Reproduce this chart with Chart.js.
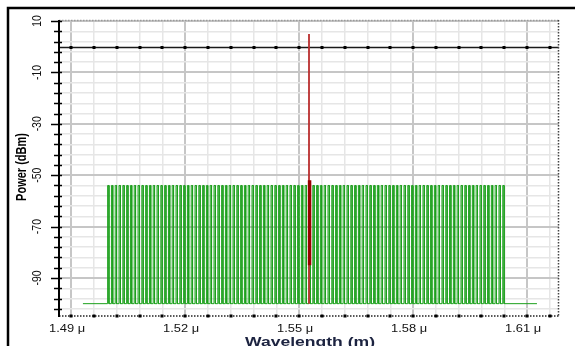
<!DOCTYPE html>
<html>
<head>
<meta charset="UTF-8">
<title>Power vs Wavelength</title>
<script src="https://cdn.jsdelivr.net/npm/chart.js@4.4.0/dist/chart.umd.min.js"></script>
<style>
  html, body { margin: 0; padding: 0; background: #fff; }
  canvas { display: block; }
</style>
</head>
<body>
<canvas id="spectrum" width="575" height="346"></canvas>
<script>
// --- data (wavelengths in nm, power in dBm) ---
const combNm = [
  1499.6, 1500.6, 1501.6, 1502.6, 1503.6, 1504.6, 1505.6, 1506.6, 1507.6, 1508.6,
  1509.6, 1510.6, 1511.6, 1512.6, 1513.6, 1514.6, 1515.6, 1516.6, 1517.6, 1518.6,
  1519.6, 1520.6, 1521.6, 1522.6, 1523.6, 1524.6, 1525.6, 1526.6, 1527.6, 1528.6,
  1529.6, 1530.6, 1531.6, 1532.6, 1533.6, 1534.6, 1535.6, 1536.6, 1537.6, 1538.6,
  1539.6, 1540.6, 1541.6, 1542.6, 1543.6, 1544.6, 1545.6, 1546.6, 1547.6, 1548.6,
  1549.6, 1550.6, 1551.6, 1552.6, 1553.6, 1554.6, 1555.6, 1556.6, 1557.6, 1558.6,
  1559.6, 1560.6, 1561.6, 1562.6, 1563.6, 1564.6, 1565.6, 1566.6, 1567.6, 1568.6,
  1569.6, 1570.6, 1571.6, 1572.6, 1573.6, 1574.6, 1575.6, 1576.6, 1577.6, 1578.6,
  1579.6, 1580.6, 1581.6, 1582.6, 1583.6, 1584.6, 1585.6, 1586.6, 1587.6, 1588.6,
  1589.6, 1590.6, 1591.6, 1592.6, 1593.6, 1594.6, 1595.6, 1596.6, 1597.6, 1598.6,
  1599.6, 1600.6, 1601.6, 1602.6, 1603.6
];
const combTopDbm = -54;
const floorDbm = -100;
const baseStartNm = 1493.1;
const baseEndNm = 1612.6;

// single strong channel
const spikeNm = [1552.6, 1552.6];
const spikeDbm = [-100, 5];
const spikeCoreNm = [1552.75, 1552.75];
const spikeCoreDbm = [-52, -85];

const refLevel = 0; // black reference trace at 0 dBm

// axes
const xMin = 1486.8, xMax = 1618.4;
const yMin = -104.8, yMax = 10.4;
const xMajorTicks = [1490, 1520, 1550, 1580, 1610];
const xTickLabels = ['1.49 μ', '1.52 μ', '1.55 μ', '1.58 μ', '1.61 μ'];
const yMajorTicks = [10, -10, -30, -50, -70, -90];
const yTickLabels = ['10', '-10', '-30', '-50', '-70', '-90'];
const xMinorStep = 6, yMinorStep = 4;

// build green trace (each channel drawn as a narrow rectangle)
const combWidth = 0.35;
const greenPts = [{ x: baseStartNm, y: floorDbm }];
combNm.forEach(w => {
  greenPts.push({ x: w, y: floorDbm }, { x: w, y: combTopDbm },
                { x: w + combWidth, y: combTopDbm }, { x: w + combWidth, y: floorDbm });
});
greenPts.push({ x: baseEndNm, y: floorDbm });

const toPts = (xs, ys) => xs.map((v, i) => ({ x: v, y: ys[i] }));

// minor grid positions derived from the major ticks
function minorTicks(first, step, lo, hi) {
  const out = [];
  let v = first;
  while (v - step >= lo) v -= step;
  for (; v <= hi; v += step) out.push({ value: Math.round(v * 100) / 100 });
  return out;
}

const decor = {
  id: 'decor',
  beforeDatasetsDraw(chart) {
    const { ctx, chartArea: a, scales: { x, y } } = chart;
    const yr = Math.round(y.getPixelForValue(refLevel)) + 0.5;
    ctx.save();
    ctx.strokeStyle = '#1a1a1a';
    ctx.lineWidth = 1.3;
    ctx.beginPath(); ctx.moveTo(a.left, yr); ctx.lineTo(a.right, yr); ctx.stroke();
    ctx.fillStyle = '#000';
    x.ticks.forEach(t => {
      const px = Math.round(x.getPixelForValue(t.value));
      ctx.fillRect(px - 1.5, yr - 1.5, 3, 3);
    });
    ctx.restore();
  },
  afterDraw(chart) {
    const { ctx, chartArea: a, scales: { x, y } } = chart;
    ctx.save();

    // outer frame
    ctx.strokeStyle = '#000';
    ctx.lineWidth = 2.5;
    ctx.strokeRect(8, 8, 620, 400);

    // top border (dotted grey) and right border (dotted dark)
    ctx.setLineDash([1.5, 1.5]);
    ctx.lineWidth = 1.5;
    ctx.strokeStyle = '#9a9a9a';
    ctx.beginPath(); ctx.moveTo(a.left, a.top + 0.5); ctx.lineTo(a.right, a.top + 0.5); ctx.stroke();
    ctx.strokeStyle = '#444';
    ctx.beginPath(); ctx.moveTo(a.right - 0.5, a.top); ctx.lineTo(a.right - 0.5, a.bottom); ctx.stroke();

    // bottom axis: dotted black with square markers
    ctx.strokeStyle = '#222';
    ctx.beginPath(); ctx.moveTo(a.left, a.bottom); ctx.lineTo(a.right, a.bottom); ctx.stroke();
    ctx.setLineDash([]);
    ctx.fillStyle = '#000';
    x.ticks.forEach(t => {
      const px = Math.round(x.getPixelForValue(t.value));
      ctx.fillRect(px - 1.5, a.bottom - 1.5, 3, 3);
    });

    // left axis: solid black with ticks
    ctx.strokeStyle = '#000';
    ctx.lineWidth = 2;
    ctx.beginPath(); ctx.moveTo(a.left, a.top); ctx.lineTo(a.left, a.bottom + 1); ctx.stroke();
    ctx.lineWidth = 1.5;
    y.ticks.forEach(t => {
      const py = Math.round(y.getPixelForValue(t.value)) + 0.5;
      const major = yMajorTicks.includes(t.value);
      ctx.beginPath();
      ctx.moveTo(a.left - (major ? 8 : 5), py);
      ctx.lineTo(a.left + 3, py);
      ctx.stroke();
    });

    // y tick labels (rotated)
    ctx.fillStyle = '#111';
    ctx.font = '11px "Liberation Sans", Arial, sans-serif';
    ctx.textAlign = 'center';
    ctx.textBaseline = 'middle';
    yMajorTicks.forEach((v, i) => {
      ctx.save();
      ctx.translate(38, y.getPixelForValue(v));
      ctx.rotate(-Math.PI / 2);
      ctx.scale(0.95, 1.15);
      ctx.fillText(yTickLabels[i], 0, 0);
      ctx.restore();
    });

    // x tick labels
    ctx.font = '11.5px "Liberation Sans", Arial, sans-serif';
    xMajorTicks.forEach((v, i) => {
      ctx.save();
      ctx.translate(x.getPixelForValue(v) - 4, 329);
      ctx.scale(1.12, 1);
      ctx.fillText(xTickLabels[i], 0, 0);
      ctx.restore();
    });

    // axis titles
    ctx.save();
    ctx.translate(22, 167);
    ctx.rotate(-Math.PI / 2);
    ctx.scale(1, 1.25);
    ctx.font = 'bold 11px "Liberation Sans", Arial, sans-serif';
    ctx.fillStyle = '#000';
    ctx.fillText('Power (dBm)', 0, 0);
    ctx.restore();

    ctx.save();
    ctx.translate(310, 346);
    ctx.scale(1.35, 1);
    ctx.font = 'bold 13px "Liberation Sans", Arial, sans-serif';
    ctx.fillStyle = '#1c2340';
    ctx.textBaseline = 'alphabetic';
    ctx.fillText('Wavelength (m)', 0, 0);
    ctx.restore();

    ctx.restore();
  }
};

const gridColor = majors => c => majors.includes(c.tick.value) ? '#c6c6c6' : '#e6e6e6';
const gridWidth = majors => c => majors.includes(c.tick.value) ? 2 : 1.5;

new Chart(document.getElementById('spectrum').getContext('2d'), {
  type: 'line',
  data: {
    datasets: [
      { data: toPts(spikeCoreNm, spikeCoreDbm), borderColor: '#980000', borderWidth: 3.5, order: 0 },
      { data: toPts(spikeNm, spikeDbm), borderColor: 'rgba(185,45,45,0.9)', borderWidth: 2, order: 1 },
      { data: greenPts, borderColor: 'rgb(28,160,28)', borderWidth: 1, order: 2 }
    ]
  },
  options: {
    responsive: false,
    devicePixelRatio: 1,
    animation: false,
    parsing: false,
    layout: { padding: { left: 59, right: 16, top: 20, bottom: 30 } },
    elements: { point: { radius: 0 }, line: { tension: 0, fill: false } },
    plugins: { legend: { display: false }, tooltip: { enabled: false } },
    scales: {
      x: {
        type: 'linear', min: xMin, max: xMax,
        afterBuildTicks: s => { s.ticks = minorTicks(xMajorTicks[0], xMinorStep, xMin, xMax); },
        afterFit: s => { s.height = 0; },
        ticks: { display: false },
        border: { display: false },
        grid: { drawTicks: false, color: gridColor(xMajorTicks), lineWidth: gridWidth(xMajorTicks) }
      },
      y: {
        type: 'linear', min: yMin, max: yMax,
        afterBuildTicks: s => { s.ticks = minorTicks(yMajorTicks[0], yMinorStep, yMin, yMax); },
        afterFit: s => { s.width = 0; },
        ticks: { display: false },
        border: { display: false },
        grid: { drawTicks: false, color: gridColor(yMajorTicks), lineWidth: gridWidth(yMajorTicks) }
      }
    }
  },
  plugins: [decor]
});
</script>
</body>
</html>
